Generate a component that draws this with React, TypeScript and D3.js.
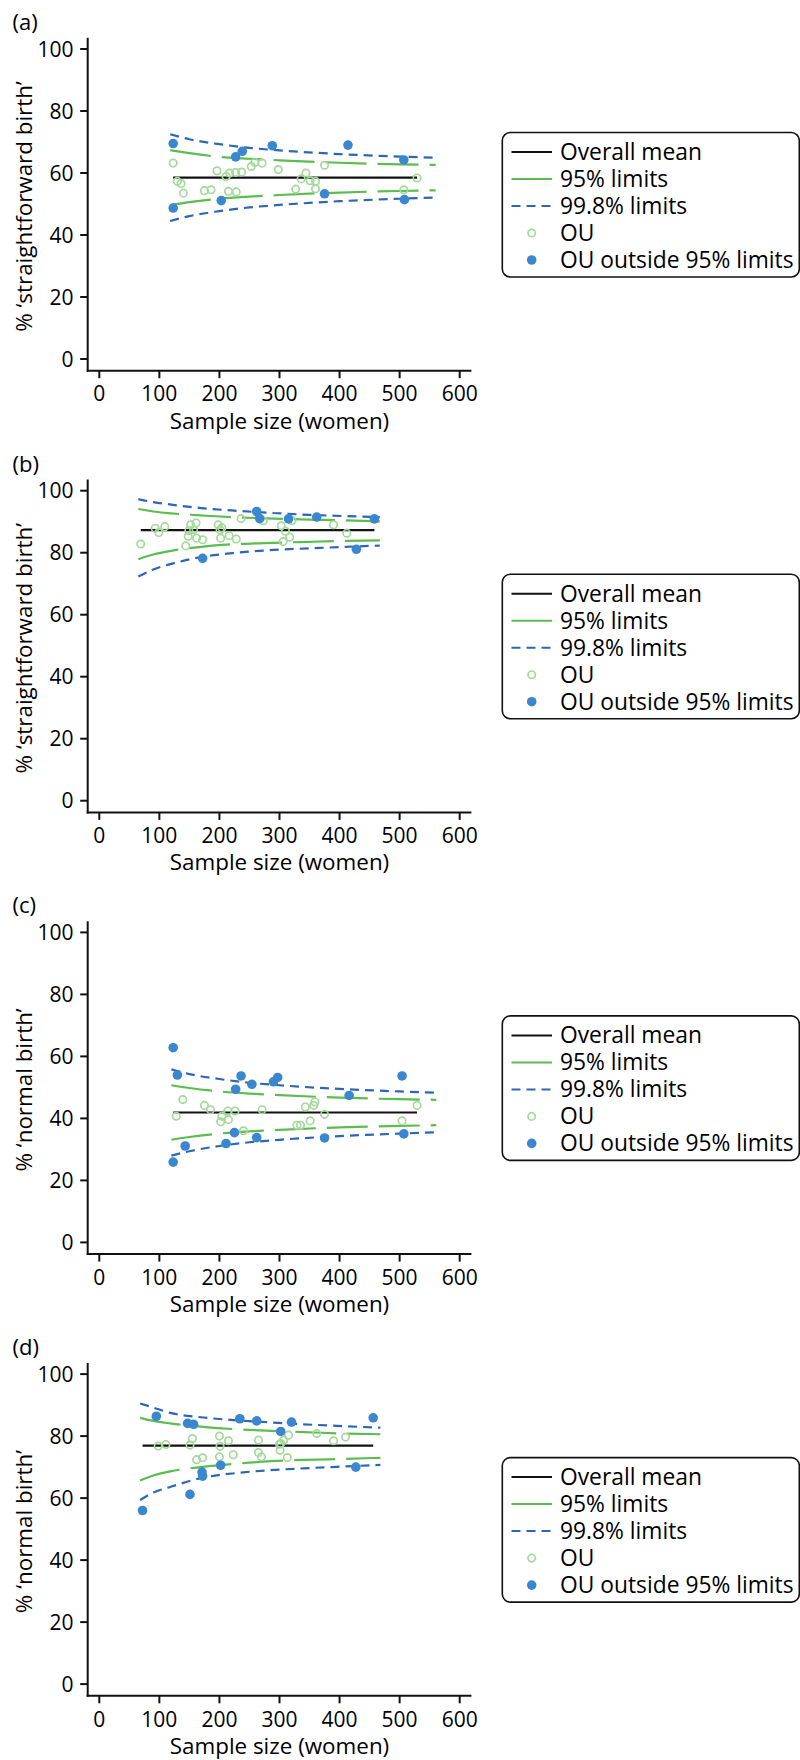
import React, { useEffect, useRef } from 'react';
import * as d3 from 'd3';

const FONT = "'Open Sans', 'Noto Sans', sans-serif";
const W = 800;
const H = 1760;

// x ticks / y ticks
const xTicks = [0, 100, 200, 300, 400, 500, 600];
const yTicks = [0, 20, 40, 60, 80, 100];
const legendItems = ['Overall mean', '95% limits', '99.8% limits', 'OU', 'OU outside 95% limits'];

// (a) % straightforward birth
const aMean = 58.5;
const aOuN = [123, 130, 136, 140, 175, 186, 196, 211, 217, 227, 237, 215, 228, 253, 259, 271, 298, 327, 336, 344, 351, 360, 360, 375, 507, 529];
const aOuPct = [63.2, 57.3, 56.6, 53.5, 54.3, 54.6, 60.7, 58.9, 60.0, 60.2, 60.3, 54.1, 53.9, 62.1, 63.4, 63.2, 61.1, 54.8, 58.1, 60.0, 57.5, 57.3, 54.9, 62.5, 54.6, 58.4];
const aOutN = [123, 123, 203, 227, 238, 288, 414, 375, 507, 508];
const aOutPct = [69.5, 48.7, 51.1, 65.2, 67.0, 68.8, 69.0, 53.3, 64.2, 51.4];
const aLimN = [118, 150, 200, 250, 300, 400, 500, 560];
const aUp95 = [67.4, 66.4, 65.2, 64.6, 64.1, 63.3, 62.8, 62.6];
const aLo95 = [49.6, 50.6, 51.7, 52.4, 52.9, 53.7, 54.2, 54.4];
const aUp998 = [72.5, 70.9, 69.3, 68.1, 67.3, 66.1, 65.3, 64.9];
const aLo998 = [44.5, 46.1, 47.7, 48.9, 49.7, 50.9, 51.7, 52.1];

// (b) % straightforward birth
const bMean = 87.3;
const bOuN = [69, 93, 99, 109, 144, 148, 149, 152, 157, 161, 162, 172, 198, 201, 202, 204, 216, 228, 236, 273, 303, 306, 310, 317, 321, 390, 412];
const bOuPct = [82.8, 87.9, 86.5, 88.4, 82.2, 85.3, 87.1, 89.0, 87.4, 89.6, 84.7, 84.2, 89.0, 87.4, 84.7, 88.0, 85.5, 84.4, 91.0, 90.3, 88.7, 83.6, 86.9, 85.0, 90.4, 89.0, 86.3];
const bOutN = [172, 262, 267, 315, 362, 428, 458];
const bOutPct = [78.2, 93.3, 91.0, 90.9, 91.5, 81.1, 90.9];
const bLimN = [65, 90, 120, 170, 230, 290, 350, 410, 467];
const bUp95 = [94.1, 93.3, 92.7, 92.0, 91.4, 91.0, 90.7, 90.4, 90.1];
const bLo95 = [77.9, 79.4, 80.6, 81.9, 82.8, 83.2, 83.5, 83.8, 84.0];
const bUp998 = [97.3, 96.3, 95.5, 94.4, 93.5, 92.8, 92.2, 91.8, 91.5];
const bLo998 = [72.3, 74.6, 76.4, 78.6, 80.0, 80.9, 81.4, 81.9, 82.3];

// (c) % normal birth
const cMean = 41.9;
const cOuN = [128, 139, 175, 185, 202, 204, 214, 215, 226, 240, 271, 329, 335, 343, 351, 357, 359, 375, 504, 529];
const cOuPct = [40.7, 46.1, 44.2, 42.8, 38.9, 40.7, 42.4, 39.6, 42.4, 36.0, 42.8, 37.8, 37.8, 43.7, 39.2, 44.2, 45.3, 41.3, 39.2, 44.2];
const cOutN = [123, 130, 123, 143, 211, 225, 227, 236, 254, 262, 290, 297, 375, 416, 504, 507];
const cOutPct = [62.8, 54.0, 25.9, 31.1, 31.9, 35.4, 49.4, 53.7, 51.0, 33.8, 51.8, 53.2, 33.7, 47.4, 53.7, 35.0];
const cLimN = [120, 150, 200, 250, 300, 400, 500, 561];
const cUp95 = [50.7, 49.8, 48.7, 48.0, 47.5, 46.7, 46.2, 46.0];
const cLo95 = [33.1, 34.0, 35.1, 35.8, 36.3, 37.1, 37.6, 37.8];
const cUp998 = [55.8, 54.3, 52.7, 51.5, 50.7, 49.5, 48.7, 48.3];
const cLo998 = [28.0, 29.4, 31.1, 32.3, 33.1, 34.3, 35.1, 35.5];

// (d) % normal birth
const dMean = 76.9;
const dOuN = [98, 111, 151, 155, 162, 172, 200, 201, 200, 215, 223, 265, 265, 270, 300, 301, 302, 307, 313, 315, 362, 390, 410];
const dOuPct = [76.8, 77.3, 77.1, 79.2, 72.4, 73.0, 80.0, 76.7, 73.3, 78.5, 74.0, 78.7, 74.7, 73.3, 77.4, 75.4, 77.6, 78.7, 73.1, 80.3, 80.8, 78.5, 79.7];
const dOutN = [72, 95, 147, 157, 151, 171, 172, 202, 234, 262, 302, 320, 427, 456];
const dOutPct = [56.0, 86.4, 84.1, 83.8, 61.2, 68.4, 67.1, 70.6, 85.6, 84.9, 81.5, 84.5, 70.0, 85.9];
const dLimN = [68, 90, 118, 173, 229, 285, 340, 396, 468];
const dUp95 = [85.9, 84.9, 84.1, 83.0, 82.2, 81.7, 81.3, 80.9, 80.6];
const dLo95 = [65.7, 67.3, 68.6, 70.1, 71.1, 71.9, 72.3, 72.6, 73.0];
const dUp998 = [90.5, 89.2, 87.5, 86.0, 85.1, 84.4, 83.8, 83.3, 82.7];
const dLo998 = [59.4, 61.8, 63.6, 66.6, 68.1, 69.0, 69.6, 70.1, 70.7];

const panels = [
  { label: '(a)', yTitle: '% ‘straightforward birth’', mean: aMean, ouN: aOuN, ouPct: aOuPct, outN: aOutN, outPct: aOutPct, limN: aLimN, up95: aUp95, lo95: aLo95, up998: aUp998, lo998: aLo998 },
  { label: '(b)', yTitle: '% ‘straightforward birth’', mean: bMean, ouN: bOuN, ouPct: bOuPct, outN: bOutN, outPct: bOutPct, limN: bLimN, up95: bUp95, lo95: bLo95, up998: bUp998, lo998: bLo998 },
  { label: '(c)', yTitle: '% ‘normal birth’', mean: cMean, ouN: cOuN, ouPct: cOuPct, outN: cOutN, outPct: cOutPct, limN: cLimN, up95: cUp95, lo95: cLo95, up998: cUp998, lo998: cLo998 },
  { label: '(d)', yTitle: '% ‘normal birth’', mean: dMean, ouN: dOuN, ouPct: dOuPct, outN: dOutN, outPct: dOutPct, limN: dLimN, up95: dUp95, lo95: dLo95, up998: dUp998, lo998: dLo998 },
];

const GREEN = '#5bbd4f';
const LIGHT_GREEN = '#a3d99a';
const BLUE_LINE = '#2b66b8';
const BLUE_DOT = '#3a87cf';
const GREEN_DASH = '41,11';
const BLUE_DASH = '9,6';

function FunnelPlots() {
  const svgRef = useRef(null);

  useEffect(() => {
    const svg = d3.select(svgRef.current);
    svg.selectAll('*').remove();

    const x = d3.scaleLinear().domain([0, 600]).range([99.3, 459.7]);

    panels.forEach((p, i) => {
      const top = 49 + i * 441.7;
      const y = d3.scaleLinear().domain([0, 100]).range([top + 310, top]);
      const y0 = y(0);
      const axisY = y0 + 11.7;
      const axisX = 87.7;
      const g = svg.append('g').style('font-family', FONT);

      // panel label
      g.append('text').attr('x', 12.5).attr('y', top - 19)
        .style('font-size', '22px').text(p.label);

      // axes
      g.append('line').attr('x1', axisX).attr('x2', axisX)
        .attr('y1', y(103.6)).attr('y2', axisY + 1)
        .attr('stroke', '#111').attr('stroke-width', 2);
      g.append('line').attr('x1', axisX - 1).attr('x2', x(619.5))
        .attr('y1', axisY).attr('y2', axisY)
        .attr('stroke', '#111').attr('stroke-width', 2);

      g.selectAll('.yt').data(yTicks).join('line')
        .attr('x1', axisX - 7.5).attr('x2', axisX)
        .attr('y1', d => y(d)).attr('y2', d => y(d))
        .attr('stroke', '#111').attr('stroke-width', 2);
      g.selectAll('.ytl').data(yTicks).join('text')
        .attr('x', 73.5).attr('y', d => y(d) + 7.5)
        .attr('text-anchor', 'end').style('font-size', '21px')
        .text(d => d);

      g.selectAll('.xt').data(xTicks).join('line')
        .attr('x1', d => x(d)).attr('x2', d => x(d))
        .attr('y1', axisY).attr('y2', axisY + 7.5)
        .attr('stroke', '#111').attr('stroke-width', 2);
      g.selectAll('.xtl').data(xTicks).join('text')
        .attr('x', d => x(d)).attr('y', y0 + 42.4)
        .attr('text-anchor', 'middle').style('font-size', '21px')
        .text(d => d);

      g.append('text').attr('x', x(300)).attr('y', y0 + 69.5)
        .attr('text-anchor', 'middle').style('font-size', '22.4px')
        .text('Sample size (women)');

      g.append('text')
        .attr('transform', `translate(31.5,${top + 157.5}) rotate(-90)`)
        .attr('text-anchor', 'middle').style('font-size', '22.4px')
        .text(p.yTitle);

      // limit curves
      const curve = (vals) => d3.line()
        .x((d, k) => x(p.limN[k]))
        .y(d => y(d))
        .curve(d3.curveMonotoneX)(vals);

      [[p.up998, BLUE_LINE, BLUE_DASH], [p.lo998, BLUE_LINE, BLUE_DASH],
       [p.up95, GREEN, GREEN_DASH], [p.lo95, GREEN, GREEN_DASH]].forEach(([vals, col, dash]) => {
        g.append('path').attr('d', curve(vals))
          .attr('fill', 'none').attr('stroke', col).attr('stroke-width', 2.2)
          .attr('stroke-dasharray', dash);
      });

      // overall mean
      const allN = p.ouN.concat(p.outN);
      g.append('line')
        .attr('x1', x(d3.min(allN))).attr('x2', x(d3.max(allN)))
        .attr('y1', y(p.mean)).attr('y2', y(p.mean))
        .attr('stroke', '#111').attr('stroke-width', 2.2);

      // units
      g.append('g').selectAll('circle').data(p.ouN).join('circle')
        .attr('cx', d => x(d)).attr('cy', (d, k) => y(p.ouPct[k]))
        .attr('r', 3.7).attr('fill', 'none')
        .attr('stroke', LIGHT_GREEN).attr('stroke-width', 1.7);
      g.append('g').selectAll('circle').data(p.outN).join('circle')
        .attr('cx', d => x(d)).attr('cy', (d, k) => y(p.outPct[k]))
        .attr('r', 4.8).attr('fill', BLUE_DOT);

      // legend
      const lt = top + 83.5;
      const lg = g.append('g');
      lg.append('rect').attr('x', 502.3).attr('y', lt)
        .attr('width', 297).attr('height', 144.5).attr('rx', 8)
        .attr('fill', 'white').attr('stroke', '#111').attr('stroke-width', 1.6);
      legendItems.forEach((txt, k) => {
        const cy = lt + 19.5 + k * 27;
        if (k === 0) {
          lg.append('line').attr('x1', 511.5).attr('x2', 552).attr('y1', cy).attr('y2', cy)
            .attr('stroke', '#111').attr('stroke-width', 2);
        } else if (k === 1) {
          lg.append('line').attr('x1', 511.5).attr('x2', 552).attr('y1', cy).attr('y2', cy)
            .attr('stroke', GREEN).attr('stroke-width', 2);
        } else if (k === 2) {
          lg.append('line').attr('x1', 511.5).attr('x2', 552).attr('y1', cy).attr('y2', cy)
            .attr('stroke', BLUE_LINE).attr('stroke-width', 2).attr('stroke-dasharray', BLUE_DASH);
        } else if (k === 3) {
          lg.append('circle').attr('cx', 531.7).attr('cy', cy).attr('r', 3.7)
            .attr('fill', 'none').attr('stroke', LIGHT_GREEN).attr('stroke-width', 1.7);
        } else {
          lg.append('circle').attr('cx', 531.7).attr('cy', cy).attr('r', 4.8)
            .attr('fill', BLUE_DOT);
        }
        lg.append('text').attr('x', 560).attr('y', cy + 7.8)
          .style('font-size', '22.8px').text(txt);
      });
    });

    return () => { svg.selectAll('*').remove(); };
  }, []);

  return <svg ref={svgRef} width={W} height={H} style={{ display: 'block', background: 'white' }} />;
}

export default function App() {
  return (
    <div style={{ position: 'absolute', left: 0, top: 0, width: W, height: H, background: 'white' }}>
      <FunnelPlots />
    </div>
  );
}
